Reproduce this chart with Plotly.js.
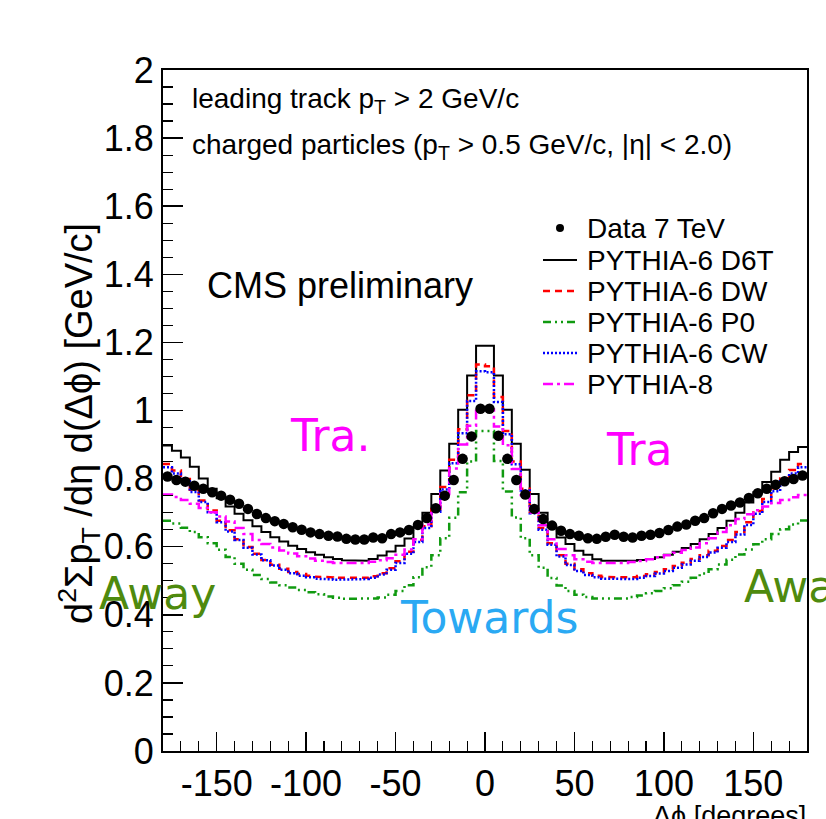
<!DOCTYPE html>
<html>
<head>
<meta charset="utf-8">
<script src="https://cdn.plot.ly/plotly-3.0.1.min.js"></script>
<style>html,body{margin:0;padding:0;background:#fff;}#chart{width:826px;height:819px;}</style>
</head>
<body>
<div id="chart"></div>
<script>
// ---- data (5-degree bins from -180 to 180) ----
const phiMin = -180;
const binWidth = 5;

const data7TeV = [0.806,0.796,0.791,0.779,0.770,0.760,0.750,0.738,0.726,0.711,0.696,0.684,0.675,0.667,0.657,0.650,0.642,0.637,0.632,0.630,
  0.623,0.621,0.621,0.627,0.625,0.637,0.642,0.649,0.664,0.684,0.713,0.750,0.796,0.858,0.924,1.005,
  1.005,0.926,0.858,0.796,0.753,0.711,0.681,0.662,0.647,0.637,0.632,0.625,0.623,0.629,0.635,0.629,
  0.627,0.632,0.635,0.640,0.649,0.659,0.665,0.676,0.684,0.698,0.711,0.721,0.730,0.743,0.757,0.770,0.782,0.792,0.799,0.809];

const pythiaD6T = [0.897,0.882,0.862,0.835,0.800,0.770,0.742,0.718,0.697,0.678,0.660,0.643,0.628,0.615,0.603,0.593,0.584,0.576,0.569,0.564,
  0.560,0.558,0.559,0.564,0.574,0.586,0.603,0.624,0.657,0.700,0.755,0.824,0.902,1.002,1.103,1.190,
  1.190,1.103,1.002,0.902,0.826,0.755,0.700,0.657,0.627,0.608,0.588,0.576,0.563,0.559,0.558,0.558,
  0.559,0.561,0.564,0.569,0.576,0.585,0.596,0.608,0.622,0.637,0.655,0.676,0.700,0.730,0.760,0.790,0.820,0.855,0.878,0.893];

const pythiaDW = [0.843,0.824,0.799,0.767,0.736,0.706,0.676,0.648,0.622,0.599,0.579,0.561,0.547,0.535,0.526,0.520,0.515,0.512,0.510,0.509,
  0.508,0.508,0.509,0.513,0.522,0.537,0.557,0.585,0.620,0.660,0.710,0.775,0.855,0.945,1.045,1.135,
  1.130,1.040,0.940,0.850,0.770,0.702,0.655,0.610,0.575,0.550,0.534,0.522,0.515,0.511,0.509,0.509,
  0.510,0.514,0.519,0.526,0.534,0.543,0.553,0.564,0.575,0.588,0.602,0.620,0.643,0.672,0.705,0.740,0.772,0.800,0.825,0.843];

const pythiaP0 = [0.676,0.668,0.656,0.643,0.628,0.610,0.591,0.570,0.550,0.532,0.517,0.505,0.495,0.487,0.480,0.473,0.466,0.460,0.454,0.450,
  0.447,0.446,0.446,0.448,0.451,0.459,0.470,0.487,0.510,0.540,0.575,0.625,0.685,0.760,0.850,0.940,
  0.940,0.852,0.762,0.686,0.625,0.575,0.538,0.508,0.486,0.470,0.459,0.452,0.448,0.446,0.446,0.448,
  0.452,0.457,0.463,0.470,0.478,0.487,0.497,0.509,0.521,0.534,0.548,0.562,0.577,0.592,0.607,0.622,0.637,0.651,0.665,0.677];

const pythiaCW = [0.833,0.815,0.792,0.761,0.731,0.701,0.672,0.645,0.620,0.597,0.577,0.560,0.545,0.532,0.522,0.515,0.510,0.506,0.504,0.503,
  0.503,0.503,0.505,0.509,0.518,0.532,0.552,0.579,0.614,0.655,0.703,0.768,0.845,0.933,1.028,1.115,
  1.112,1.025,0.930,0.842,0.765,0.698,0.650,0.606,0.571,0.546,0.529,0.517,0.510,0.506,0.504,0.504,
  0.505,0.509,0.514,0.521,0.529,0.538,0.548,0.559,0.570,0.583,0.597,0.614,0.636,0.664,0.697,0.731,0.763,0.792,0.815,0.833];

const pythia8 = [0.753,0.746,0.737,0.726,0.714,0.701,0.689,0.674,0.655,0.637,0.620,0.608,0.598,0.589,0.580,0.572,0.565,0.559,0.555,0.552,
  0.550,0.550,0.552,0.556,0.560,0.566,0.576,0.592,0.622,0.665,0.703,0.755,0.830,0.900,0.955,1.005,
  1.003,0.953,0.898,0.828,0.752,0.700,0.663,0.622,0.593,0.575,0.563,0.556,0.552,0.551,0.551,0.552,
  0.555,0.558,0.563,0.569,0.575,0.582,0.590,0.598,0.610,0.625,0.643,0.663,0.681,0.695,0.707,0.718,0.728,0.737,0.745,0.752];

const seriesNames = ['Data 7 TeV','PYTHIA-6 D6T','PYTHIA-6 DW','PYTHIA-6 P0','PYTHIA-6 CW','PYTHIA-8'];
const xTickVals = [-150,-100,-50,0,50,100,150];
const xTickText = ['-150','-100','-50','0','50','100','150'];
const yTickVals = [0,0.2,0.4,0.6,0.8,1,1.2,1.4,1.6,1.8,2];
const yTickText = ['0','0.2','0.4','0.6','0.8','1','1.2','1.4','1.6','1.8','2'];

// ---- helpers ----
const binCenters = data7TeV.map((_, i) => phiMin + binWidth * (i + 0.5));
function steps(vals) {
  const x = [], y = [];
  vals.forEach((v, i) => { const lo = phiMin + i * binWidth; x.push(lo, lo + binWidth); y.push(v, v); });
  return {x, y};
}
// layout geometry (pixels)
const W = 826, H = 819, L = 163, R = 19, T = 70, B = 68;
const pw = W - L - R, ph = H - T - B;
const px = p => (p - L) / pw;
const py = p => (H - B - p) / ph;

const FONT = 'Liberation Sans, Arial, Helvetica, sans-serif';
const HAND = 'DejaVu Sans, sans-serif';

const styles = [
  null,
  {color:'#000000', width:2, dash:'solid'},
  {color:'#ff0000', width:2.5, dash:'7px,5px'},
  {color:'#109a10', width:2.5, dash:'8px,4px,2px,4px,2px,4px'},
  {color:'#0000ff', width:2.5, dash:'2px,2px'},
  {color:'#ff00ff', width:2.5, dash:'10px,4px,3px,4px'}
];
const mcSeries = [pythiaD6T, pythiaDW, pythiaP0, pythiaCW, pythia8];

const traces = [];
mcSeries.forEach((vals, k) => {
  const s = steps(vals);
  traces.push({x: s.x, y: s.y, type:'scatter', mode:'lines', name: seriesNames[k+1],
    line: styles[k+1], showlegend:false, hoverinfo:'skip'});
});
traces.push({x: binCenters, y: data7TeV, type:'scatter', mode:'markers', name: seriesNames[0],
  marker:{color:'#000', size:10.5}, showlegend:false});

// manual legend (ROOT style)
const legRows = [228, 260, 291, 322, 353, 384];
const annotations = [];
const shapes = [];
seriesNames.forEach((n, k) => {
  annotations.push({xref:'paper', yref:'paper', x: px(585), y: py(legRows[k]), xanchor:'left', yanchor:'middle',
    text: n, showarrow:false, font:{family:FONT, size:28, color:'#000'}});
  if (k === 0) {
    shapes.push({type:'circle', xref:'paper', yref:'paper', x0: px(556), x1: px(564), y0: py(legRows[k]+4), y1: py(legRows[k]-4),
      fillcolor:'#000', line:{width:0}});
  } else {
    shapes.push({type:'line', xref:'paper', yref:'paper', x0: px(543), x1: px(577), y0: py(legRows[k]), y1: py(legRows[k]),
      line: styles[k]});
  }
});

annotations.push(
  {xref:'paper', yref:'paper', x: px(190), y: py(100), xanchor:'left', yanchor:'middle', showarrow:false,
   text:'leading track p<sub>T</sub> &gt; 2 GeV/c', font:{family:FONT, size:28, color:'#000'}},
  {xref:'paper', yref:'paper', x: px(190), y: py(146), xanchor:'left', yanchor:'middle', showarrow:false,
   text:'charged particles (p<sub>T</sub> &gt; 0.5 GeV/c, |η| &lt; 2.0)', font:{family:FONT, size:28, color:'#000'}},
  {xref:'paper', yref:'paper', x: px(205), y: py(285), xanchor:'left', yanchor:'middle', showarrow:false,
   text:'CMS preliminary', font:{family:FONT, size:36, color:'#000'}},
  {xref:'paper', yref:'paper', x: px(79), y: py(424), xanchor:'center', yanchor:'middle', showarrow:false, textangle:-90,
   text:'d<sup>2</sup>Σp<sub>T</sub> /dη d(Δϕ) [GeV/c]', font:{family:FONT, size:38, color:'#000'}},
  {xref:'paper', yref:'paper', x: px(808), y: py(799), xanchor:'right', yanchor:'top', showarrow:false,
   text:'Δϕ [degrees]', font:{family:FONT, size:27, color:'#000'}},
  {xref:'paper', yref:'paper', x: px(288), y: py(436), xanchor:'left', yanchor:'middle', showarrow:false,
   text:'Tra.', font:{family:HAND, size:44, color:'#ff00ff'}},
  {xref:'paper', yref:'paper', x: px(604), y: py(449), xanchor:'left', yanchor:'middle', showarrow:false,
   text:'Tra', font:{family:HAND, size:44, color:'#ff00ff'}},
  {xref:'paper', yref:'paper', x: px(97), y: py(593), xanchor:'left', yanchor:'middle', showarrow:false,
   text:'Away', font:{family:HAND, size:44, color:'#4e8a0e'}},
  {xref:'paper', yref:'paper', x: px(742), y: py(586), xanchor:'left', yanchor:'middle', showarrow:false,
   text:'Away', font:{family:HAND, size:44, color:'#4e8a0e'}},
  {xref:'paper', yref:'paper', x: px(398), y: py(617), xanchor:'left', yanchor:'middle', showarrow:false,
   text:'Towards', font:{family:HAND, size:44, color:'#2aa9f3'}}
);

const axisCommon = {
  showgrid:false, zeroline:false, showline:true, mirror:true, linecolor:'#000', linewidth:2,
  ticks:'inside', tickcolor:'#000', tickwidth:1.5, tickfont:{family:FONT, size:36, color:'#000'}
};

const layout = {
  width: W, height: H,
  margin:{l:L, r:R, t:T, b:B, pad:0},
  paper_bgcolor:'#fff', plot_bgcolor:'#fff',
  showlegend:false,
  xaxis: Object.assign({}, axisCommon, {
    range:[-180,180], tickmode:'array', tickvals:xTickVals, ticktext:xTickText, ticklen:19,
    minor:{tickmode:'linear', tick0:0, dtick:10, ticklen:10, ticks:'inside', tickcolor:'#000', tickwidth:1.2}
  }),
  yaxis: Object.assign({}, axisCommon, {
    range:[0,2], tickmode:'array', tickvals:yTickVals, ticktext:yTickText, ticklen:20,
    minor:{tickmode:'linear', tick0:0, dtick:0.05, ticklen:10, ticks:'inside', tickcolor:'#000', tickwidth:1.2}
  }),
  annotations, shapes
};

Plotly.newPlot('chart', traces, layout, {displayModeBar:false, staticPlot:true});
</script>
</body>
</html>
